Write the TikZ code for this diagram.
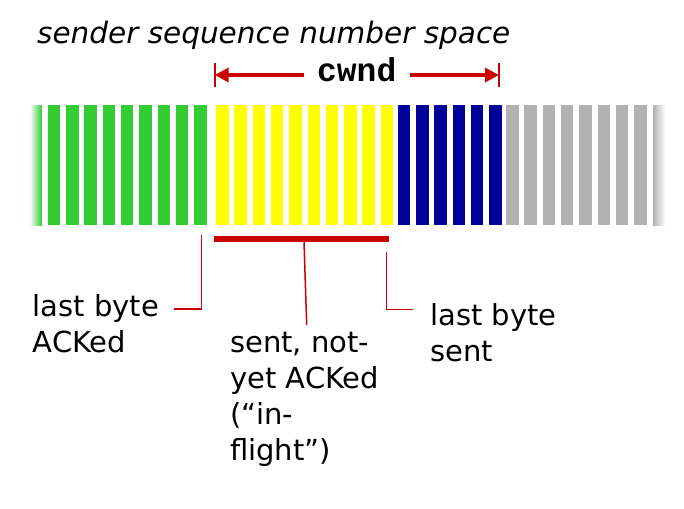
\documentclass[tikz,border=0pt]{standalone}
\usepackage{fontspec}
\setmainfont{DejaVu Sans}
\newfontfamily\cwndfont{Liberation Mono}
\usetikzlibrary{arrows.meta}

\definecolor{seqgreen}{RGB}{51,204,51}
\definecolor{seqyellow}{RGB}{255,255,0}
\definecolor{seqblue}{RGB}{0,0,153}
\definecolor{seqgray}{RGB}{178,178,178}
\definecolor{seqred}{RGB}{204,0,0}

\begin{document}
\begin{tikzpicture}[
  x=1pt, y=-1pt,
  note/.style={font=\fontsize{29}{36}\selectfont, align=left, anchor=north west, inner sep=0pt},
  seqbar/.style={fill=#1},
  winarrow/.style={draw=seqred, line width=4pt, -{Triangle[length=14pt,width=14pt]}},
  winedge/.style={draw=seqred, line width=2pt},
  leader/.style={draw=seqred, line width=1.5pt}
]
\useasboundingbox (0,0) rectangle (684,508);

% Title
\node[font=\fontsize{29.5}{36}\selectfont\itshape, anchor=base west, inner sep=0pt] (title) at (37,43.3) {sender sequence number space};

% Sequence number space: one bar per byte
\shade[left color=white, right color=seqgreen] (29.5,105) rectangle ++(12.5,120);
\foreach \xa/\num/\col in {47.7/9/seqgreen, 216/10/seqyellow, 397.7/6/seqblue, 506/8/seqgray}
  \foreach \k in {1,...,\num}
    \fill[seqbar=\col] ({\xa+18.3*(\k-1)},105) rectangle ++(12.5,120);
\shade[left color=seqgray, right color=white] (653,105) rectangle ++(12.5,120);

% Window (cwnd)
\coordinate (winL) at (214.7,75);
\coordinate (winR) at (499,75);
\node[font=\fontsize{33}{36}\selectfont\cwndfont\bfseries, anchor=base, inner sep=13pt] (cwnd) at (356.7,81.7) {cwnd};
\draw[winarrow] (cwnd.west |- winL) -- (winL);
\draw[winarrow] (cwnd.east |- winR) -- (winR);
\draw[winedge] ([yshift=12pt]winL) -- ([yshift=-12pt]winL);
\draw[winedge] ([yshift=12pt]winR) -- ([yshift=-12pt]winR);

% In-flight marker
\coordinate (flightL) at (214.3,239);
\coordinate (flightR) at (389,239);
\draw[seqred, line width=6pt] (flightL) -- (flightR);

% Labels
\node[note] (acked) at (32.5,294.7) {last byte\\ACKed};
\node[note] (flight) at (230,332) {sent, not-\\yet ACKed\\(“in-\\flight”)};
\node[note] (sent) at (430,303) {last byte\\sent};

% Leader lines
\coordinate (ackTop) at (201.7,235);
\coordinate (ackEnd) at (174.3,309);
\draw[leader] (ackTop) |- (ackEnd);
\coordinate (flightMid) at (304,242);
\coordinate (flightEnd) at (306.7,325);
\draw[leader] (flightMid) -- (flightEnd);
\coordinate (sentTop) at (386.7,252);
\coordinate (sentEnd) at (413.3,309.3);
\draw[leader] (sentTop) |- (sentEnd);

\end{tikzpicture}
\end{document}
